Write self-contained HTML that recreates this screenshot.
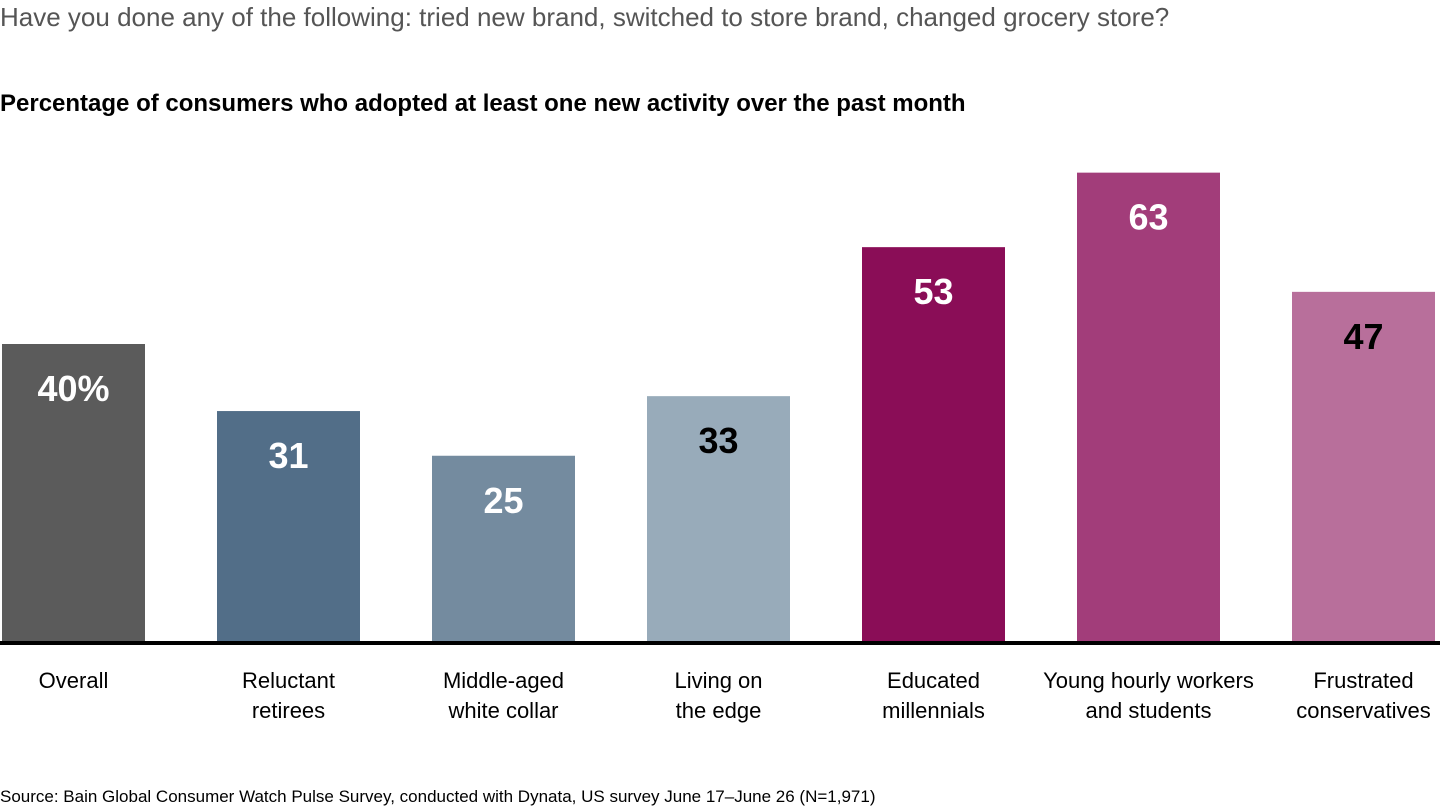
<!DOCTYPE html>
<html><head><meta charset="utf-8"><style>
body{margin:0;width:1440px;height:810px;background:#fff;font-family:"Liberation Sans",sans-serif;overflow:hidden;position:relative}
.t{position:absolute;white-space:nowrap}
</style></head><body>
<div class="t" style="left:0;top:2px;font-size:26px;color:#555">Have you done any of the following: tried new brand, switched to store brand, changed grocery store?</div>
<div class="t" style="left:0;top:90px;font-size:24px;font-weight:bold;color:#000">Percentage of consumers who adopted at least one new activity over the past month</div>
<svg id="chart" width="1440" height="770" style="position:absolute;left:0;top:0"></svg>
<div class="t" style="left:0;top:787px;font-size:17px;color:#000">Source: Bain Global Consumer Watch Pulse Survey, conducted with Dynata, US survey June 17–June 26 (N=1,971)</div>
<script>
const categories=[["Overall"],["Reluctant","retirees"],["Middle-aged","white collar"],["Living on","the edge"],["Educated","millennials"],["Young hourly workers","and students"],["Frustrated","conservatives"]];
const values=[40,31,25,33,53,63,47];
const valueLabels=["40%","31","25","33","53","63","47"];
const colors=["#5b5b5b","#526e88","#748b9f","#98abba","#8a0d57","#a23d7a","#b86f9b"];
const labelColors=["#fff","#fff","#fff","#000","#fff","#fff","#000"];
const NS="http://www.w3.org/2000/svg";
const svg=document.getElementById('chart');
const base=642, scale=7.45, x0=2, step=215, bw=143;
const y=v=>base-v*scale;
const xc=i=>x0+i*step+bw/2;
values.forEach((v,i)=>{
  const r=document.createElementNS(NS,'rect');
  
  
  r.setAttribute('x',x0+i*step);r.setAttribute('y',y(v));r.setAttribute('width',bw);r.setAttribute('height',base-y(v));r.setAttribute('fill',colors[i]);
  svg.appendChild(r);
  const t=document.createElementNS(NS,'text');
  
  
  t.setAttribute('x',xc(i));t.setAttribute('y',y(v)+57);t.setAttribute('text-anchor','middle');
  t.setAttribute('font-size','36');t.setAttribute('font-weight','bold');t.setAttribute('fill',labelColors[i]);
  t.textContent=valueLabels[i];svg.appendChild(t);
  categories[i].forEach((line,j)=>{
    const c=document.createElementNS(NS,'text');
    
    
    c.setAttribute('x',xc(i));c.setAttribute('y',688+j*30);c.setAttribute('text-anchor','middle');
    c.setAttribute('font-size','22');c.setAttribute('fill','#000');
    c.textContent=line;svg.appendChild(c);
  });
});
const ax=document.createElementNS(NS,'rect');


ax.setAttribute('x',0);ax.setAttribute('y',base-1);ax.setAttribute('width',1440);ax.setAttribute('height',4);ax.setAttribute('fill','#000');
svg.appendChild(ax);
</script>
</body></html>
